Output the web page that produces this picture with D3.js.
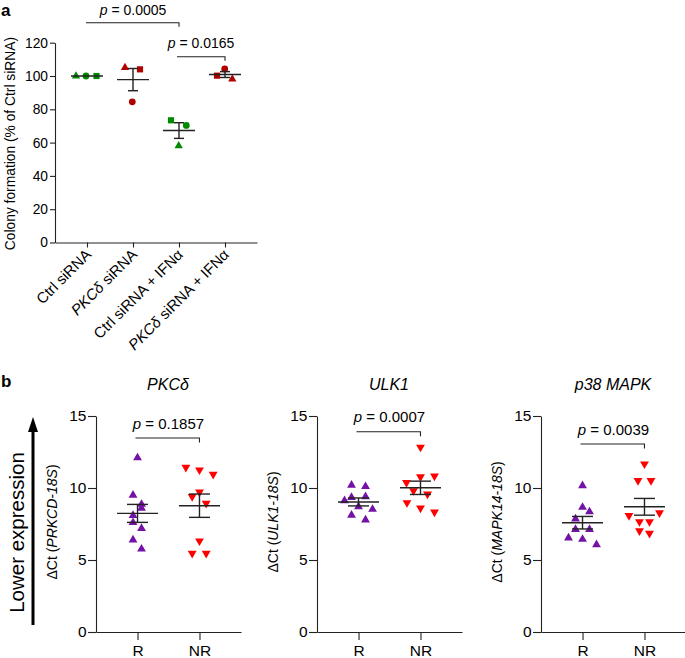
<!DOCTYPE html>
<html><head><meta charset="utf-8">
<script src="https://cdn.jsdelivr.net/npm/d3@7"></script>
<style>
html,body{margin:0;padding:0;background:#fff;}
svg{display:block;font-family:"Liberation Sans",Arial,Helvetica,sans-serif;}
</style></head>
<body>
<svg id="chart" width="685" height="658"></svg>
<script>
// ---------------- DATA ----------------
// Panel a
const catsA = ["Ctrl siRNA", "PKCδ siRNA", "Ctrl siRNA + IFNα", "PKCδ siRNA + IFNα"];
const shapesA = ["triangle", "circle", "square"];
const ctrlSi = [100, 100, 100];
const pkcSi = [105, 84.5, 104];
const ctrlIfn = [58, 70.3, 73.4];
const pkcIfn = [98.2, 104.2, 100.2];
const valuesA = [ctrlSi, pkcSi, ctrlIfn, pkcIfn];
const ticksA = [0, 20, 40, 60, 80, 100, 120];
const pA = ["0.0005", "0.0165"];

// Panel b
const groupsB = ["R", "NR"];
const genesB = ["PKCδ", "ULK1", "p38 MAPK"];
const ylabGenesB = ["PRKCD-18S", "ULK1-18S", "MAPK14-18S"];
const pB = ["0.1857", "0.0007", "0.0039"];
const ticksB = [0, 5, 10, 15];
const pkcR  = [12.1, 9.5, 8.87, 8.6, 8.1, 7.6, 7.2, 6.4, 5.76];
const pkcNR = [11.44, 11.25, 10.95, 9.72, 9.4, 8.94, 6.32, 5.46, 5.46];
const ulkR  = [10.2, 10.1, 9.12, 9.35, 9.4, 8.7, 8.52, 8.12, 7.78];
const ulkNR = [12.83, 10.37, 10.78, 10.83, 9.81, 9.58, 8.98, 8.61, 8.33];
const mapkR  = [10.16, 8.66, 8.35, 7.85, 7.13, 7.13, 6.53, 6.44, 6.06];
const mapkNR = [11.67, 10.51, 10.51, 8.08, 8.28, 7.66, 7.66, 7.03, 6.85];
const valuesB = [[pkcR, pkcNR], [ulkR, ulkNR], [mapkR, mapkNR]];

// ---------------- LAYOUT / STYLE ----------------
const FONT = '"Liberation Sans",Arial,Helvetica,sans-serif';
const LINE = "#222";
const colA = ["#008a00", "#b00000", "#008a00", "#b00000"];
const colB = ["#7412a6", "#ff0000"];
// horizontal scatter offsets (px) for the points
const jitterA = [[-11, -1, 9.5], [-8, -0.7, 7], [-0.3, 7.3, -8], [7.3, -0.3, -8]];
const jitterB = [
  [[0, -4.5, 4, 4, -4.5, -4.5, 4, -4.5, 4], [-13.6, 0, 13.7, 0, -7.3, 6.7, 0, -7.3, 6.7]],
  [[-7, 7, -14, -7, 7, 0, 14, -7, 7], [0, -14, 0, 14, -7, 7, -13.5, 0, 14]],
  [[0, 0, 7, -7, -7, 7, -14, 0, 14], [0, -6.5, 6.5, -15.5, 15, -5, 5, -5, 5]]
];

const svg = d3.select("#chart");
function sem(a){ return d3.deviation(a) / Math.sqrt(a.length); }
function symPath(type, size){
  const t = type === "circle" ? d3.symbolCircle : type === "square" ? d3.symbolSquare : d3.symbolTriangle;
  return d3.symbol().type(t).size(size)();
}

// ======== Panel a ========
const ax0 = 55, ax1 = 257, ay0 = 242.5, ay1 = 42.7;
const xA = d3.scalePoint().domain(catsA).range([ax0, ax1]).padding(0.6957);
const yA = d3.scaleLinear().domain([0, 120]).range([ay0, ay1]);

svg.append("text").attr("x", 1).attr("y", 16).attr("font-size", 17).attr("font-weight", "bold").text("a");

const gyA = svg.append("g").attr("transform", `translate(${ax0},0)`)
  .call(d3.axisLeft(yA).tickValues(ticksA).tickSize(5).tickPadding(2).tickSizeOuter(0));
const gxA = svg.append("g").attr("transform", `translate(0,${ay0})`)
  .call(d3.axisBottom(xA).tickSize(5).tickSizeOuter(0).tickFormat(""));
[gyA, gxA].forEach(g => {
  g.selectAll("path,line").attr("stroke", LINE).attr("stroke-width", 1.1);
  g.selectAll("text").attr("font-family", FONT).attr("font-size", 13.8).attr("fill", "#000");
});

// rotated category labels
catsA.forEach((c, i) => {
  const t = svg.append("text")
    .attr("transform", `translate(${xA(c) + 5},${ay0 + 13}) rotate(-45)`)
    .attr("text-anchor", "end").attr("font-size", 15).attr("font-family", FONT);
  if (c.startsWith("PKCδ")) {
    t.append("tspan").attr("font-style", "italic").text("PKCδ");
    t.append("tspan").text(c.slice(4));
  } else t.text(c);
});

svg.append("text")
  .attr("transform", `translate(15,${(ay0 + ay1) / 2 + 1}) rotate(-90)`)
  .attr("text-anchor", "middle").attr("font-size", 13.8).text("Colony formation (% of Ctrl siRNA)");

// points
catsA.forEach((c, i) => {
  valuesA[i].forEach((v, j) => {
    svg.append("path").attr("d", symPath(shapesA[j], shapesA[j] === "square" ? 38 : shapesA[j] === "circle" ? 36 : 30))
      .attr("transform", `translate(${xA(c) + jitterA[i][j]},${yA(v)})`)
      .attr("fill", colA[i]);
  });
  const m = d3.mean(valuesA[i]), s = sem(valuesA[i]), cx = xA(c);
  const g = svg.append("g").attr("stroke", LINE).attr("stroke-width", 1.4).attr("fill", "none");
  g.append("line").attr("x1", cx - 16).attr("x2", cx + 16).attr("y1", yA(m)).attr("y2", yA(m));
  if (s > 0.01) {
    g.append("line").attr("x1", cx).attr("x2", cx).attr("y1", yA(m - s)).attr("y2", yA(m + s));
    [m - s, m + s].forEach(v => g.append("line").attr("x1", cx - 5).attr("x2", cx + 5).attr("y1", yA(v)).attr("y2", yA(v)));
  }
});

// significance brackets
function bracket(x1, x2, y, drop, label, tx, ty, fs){
  svg.append("path").attr("d", `M${x1},${y}H${x2}V${y + drop}`).attr("fill", "none").attr("stroke", LINE).attr("stroke-width", 1.1);
  const t = svg.append("text").attr("x", tx).attr("y", ty).attr("text-anchor", "middle").attr("font-size", fs);
  t.append("tspan").attr("font-style", "italic").text("p");
  t.append("tspan").text(" = " + label);
}
bracket(xA(catsA[0]) - 1, xA(catsA[2]), 22.7, 4, pA[0], (xA(catsA[0]) + xA(catsA[2])) / 2, 15, 14);
bracket(xA(catsA[2]) - 2, xA(catsA[3]), 56.7, 4, pA[1], 201, 48, 14);

// ======== Panel b ========
svg.append("text").attr("x", 1).attr("y", 387).attr("font-size", 17).attr("font-weight", "bold").text("b");

const by0 = 632, by1 = 416, bw = 145;
const axisX = [96, 317, 541];
const titleY = 390;
const pTextY = [429, 422, 435];
const brY = [438, 431.7, 444];
const yB = d3.scaleLinear().domain([0, 15]).range([by0, by1]);

// "Lower expression" arrow
svg.append("text").attr("transform", `translate(24,${(452 + 613) / 2}) rotate(-90)`)
  .attr("text-anchor", "middle").attr("font-size", 20.5).text("Lower expression");
svg.append("line").attr("x1", 33).attr("x2", 33).attr("y1", 430).attr("y2", 625).attr("stroke", "#000").attr("stroke-width", 3);
svg.append("path").attr("d", "M33,417L38,432H28Z").attr("fill", "#000");

genesB.forEach((gene, k) => {
  const x0 = axisX[k];
  const xB = d3.scalePoint().domain(groupsB).range([x0, x0 + bw]).padding(0.67);
  const gy = svg.append("g").attr("transform", `translate(${x0},0)`)
    .call(d3.axisLeft(yB).tickValues(ticksB).tickSize(8).tickPadding(1.5).tickSizeOuter(0));
  const gx = svg.append("g").attr("transform", `translate(0,${by0})`)
    .call(d3.axisBottom(xB).tickSize(8).tickSizeOuter(0).tickPadding(4.5));
  [gy, gx].forEach(g => {
    g.selectAll("path,line").attr("stroke", LINE).attr("stroke-width", 1.1);
    g.selectAll("text").attr("font-family", FONT).attr("font-size", 15.5).attr("fill", "#000");
  });
  // title
  svg.append("text").attr("x", x0 + 72).attr("y", titleY).attr("text-anchor", "middle")
    .attr("font-size", 16).attr("font-style", "italic").text(gene);
  // y label
  const yl = svg.append("text").attr("transform", `translate(${x0 - 39},${(by0 + by1) / 2 - 2}) rotate(-90)`)
    .attr("text-anchor", "middle").attr("font-size", 14);
  yl.append("tspan").text("ΔCt (");
  yl.append("tspan").attr("font-style", "italic").text(ylabGenesB[k]);
  yl.append("tspan").text(")");

  groupsB.forEach((grp, gi) => {
    const vals = valuesB[k][gi], cx = xB(grp);
    vals.forEach((v, j) => {
      svg.append("path").attr("d", symPath("triangle", 34))
        .attr("transform", `translate(${cx + jitterB[k][gi][j]},${yB(v)}) rotate(${gi === 1 ? 180 : 0})`)
        .attr("fill", colB[gi]);
    });
    const m = d3.mean(vals), s = sem(vals);
    const g = svg.append("g").attr("stroke", LINE).attr("stroke-width", 1.4);
    g.append("line").attr("x1", cx - 20.5).attr("x2", cx + 20.5).attr("y1", yB(m)).attr("y2", yB(m));
    g.append("line").attr("x1", cx).attr("x2", cx).attr("y1", yB(m - s)).attr("y2", yB(m + s));
    [m - s, m + s].forEach(v => g.append("line").attr("x1", cx - 10.5).attr("x2", cx + 10.5).attr("y1", yB(v)).attr("y2", yB(v)));
  });
  bracket(xB("R") - 2, xB("NR"), brY[k], 4.5, pB[k], (xB("R") + xB("NR")) / 2, pTextY[k], 15);
});
</script>
</body></html>
